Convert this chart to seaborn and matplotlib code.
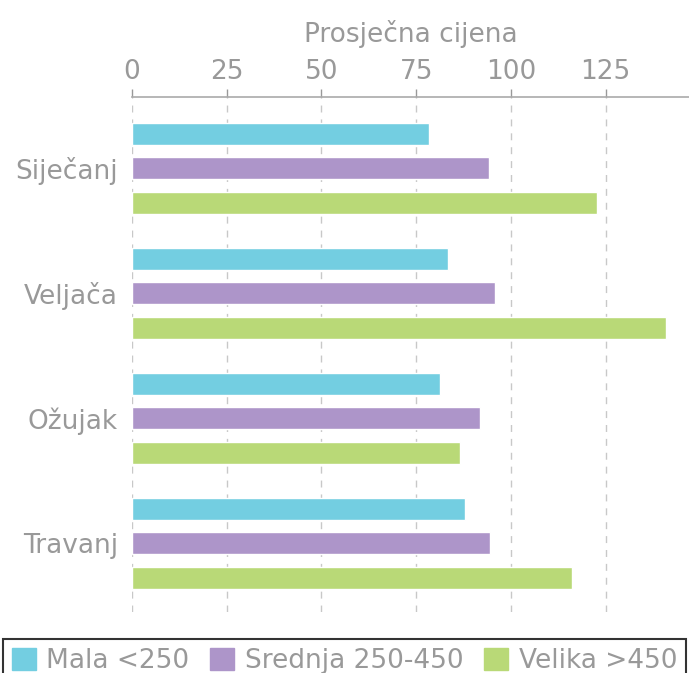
import numpy as np
import pandas as pd
import matplotlib
matplotlib.use("Agg")
import matplotlib.pyplot as plt
import seaborn as sns

# data
months = ["Siječanj", "Veljača", "Ožujak", "Travanj"]
groups = ["Mala <250", "Srednja 250-450", "Velika >450"]
mala = [78.4, 83.4, 81.3, 87.9]
srednja = [94.2, 95.8, 91.8, 94.5]
velika = [122.7, 140.9, 86.5, 116.1]
colors = ["#73CEE1", "#AD95C9", "#B9D977"]

df = pd.DataFrame({
    "mjesec": months * 3,
    "grupa": [g for g in groups for _ in months],
    "cijena": mala + srednja + velika,
})

sns.set_style("white")
plt.rcParams["font.family"] = ["DejaVu Sans"]
gray = "#999999"
fs = 19

fig = plt.figure(figsize=(6.89, 6.73), dpi=100)
ax = fig.add_axes([0.1916, 0.0906, 0.8084, 0.765])

sns.barplot(data=df, y="mjesec", x="cijena", hue="grupa", order=months,
            hue_order=groups, palette=colors, orient="h", width=0.83, gap=0.36,
            saturation=1, ax=ax, legend=False)

ax.set_xlim(0, 147)
ax.set_ylim(3.55, -0.57)
ax.set_xticks([0, 25, 50, 75, 100, 125])
ax.xaxis.tick_top()
ax.xaxis.set_label_position("top")
ax.set_xlabel("Prosječna cijena", fontsize=fs, color=gray, labelpad=12)
ax.set_ylabel("")
ax.tick_params(axis="x", colors=gray, labelsize=fs, length=6, width=1, pad=3)
ax.tick_params(axis="y", colors=gray, labelsize=fs, length=6, width=1, pad=4)
for lab in ax.get_xticklabels() + ax.get_yticklabels():
    lab.set_color(gray)

ax.grid(axis="x", linestyle=(0, (5, 5)), color="#c8c8c8", linewidth=1)
ax.set_axisbelow(True)
for s in ["left", "right", "bottom"]:
    ax.spines[s].set_visible(False)
ax.spines["top"].set_color("#aaaaaa")
ax.spines["top"].set_linewidth(1.2)

handles = [plt.Rectangle((0, 0), 1, 1, color=c) for c in colors]
leg = fig.legend(handles, groups, loc="upper center", bbox_to_anchor=(0.5, 0.07),
                 ncol=3, fontsize=fs, frameon=True, fancybox=False,
                 handlelength=0.9, handleheight=0.9, handletextpad=0.4,
                 columnspacing=0.8, borderpad=0.35, labelcolor=gray)
leg.get_frame().set_edgecolor("black")
leg.get_frame().set_linewidth(1.5)

fig.savefig("out.png", dpi=100)
